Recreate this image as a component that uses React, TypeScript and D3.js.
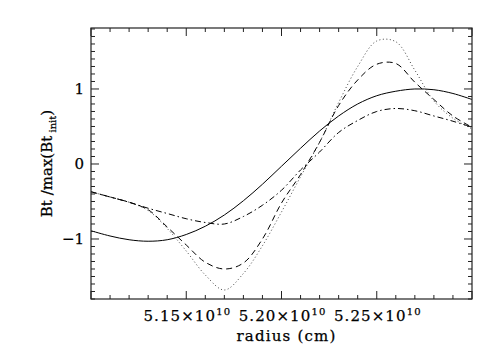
import React from "react";
import * as d3 from "d3";

const radius = [5.100, 5.110, 5.120, 5.130, 5.140, 5.150, 5.160, 5.170, 5.180, 5.190, 5.200, 5.210, 5.220, 5.230, 5.240, 5.250, 5.260, 5.270, 5.280, 5.290, 5.300];
const solid = [-0.89, -0.96, -1.01, -1.03, -1.01, -0.94, -0.83, -0.68, -0.49, -0.27, -0.03, 0.21, 0.44, 0.64, 0.80, 0.91, 0.97, 1.00, 0.99, 0.94, 0.86];
const dashed = [-0.37, -0.44, -0.51, -0.61, -0.84, -1.08, -1.31, -1.40, -1.32, -1.00, -0.52, -0.14, 0.29, 0.78, 1.12, 1.33, 1.34, 1.09, 0.86, 0.64, 0.49];
const dotted = [-0.37, -0.44, -0.51, -0.62, -0.86, -1.16, -1.48, -1.68, -1.46, -1.09, -0.64, -0.17, 0.29, 0.82, 1.30, 1.64, 1.63, 1.25, 0.84, 0.61, 0.47];
const dashDot = [-0.37, -0.44, -0.51, -0.59, -0.66, -0.73, -0.78, -0.80, -0.70, -0.55, -0.35, -0.08, 0.16, 0.42, 0.58, 0.70, 0.74, 0.71, 0.64, 0.57, 0.49];

const xMajorTicks = [5.15, 5.20, 5.25];
const yMajorTicks = [-1, 0, 1];

export default function App() {
  const W = 499, H = 358;
  const left = 91, right = 472, top = 28, bottom = 299;
  const x = d3.scaleLinear().domain([5.10, 5.30]).range([left, right]);
  const y = d3.scaleLinear().domain([-1.8, 1.813]).range([bottom, top]);

  const line = (vals: number[]) =>
    d3.line<number>()
      .x((_, i) => x(radius[i]))
      .y((v) => y(v))
      .curve(d3.curveCatmullRom.alpha(0.5))(vals) || "";

  const xMinor = d3.range(0, 21).map((i) => 5.10 + i * 0.01);
  const yMinor = d3.range(-18, 19).map((i) => i * 0.1);
  const axisColor = "#222";
  const font = "DejaVu Serif";

  const isMajorX = (v: number) => Math.abs(v * 20 - Math.round(v * 20)) < 1e-6;
  const isMajorY = (v: number) => Math.abs(v - Math.round(v)) < 1e-6;

  return (
    <svg width={W} height={H} style={{ position: "absolute", left: 0, top: 0, background: "#fff" }}>
      <rect x={0} y={0} width={W} height={H} fill="#fff" />
      {/* series */}
      <g fill="none" stroke="#000" strokeWidth={1}>
        <path d={line(solid)} />
        <path d={line(dashed)} strokeDasharray="6,4" />
        <path d={line(dotted)} strokeDasharray="1,2.5" stroke="#444" />
        <path d={line(dashDot)} strokeDasharray="6,3,1.5,3" />
      </g>
      {/* frame */}
      <rect x={left} y={top} width={right - left} height={bottom - top} fill="none" stroke={axisColor} strokeWidth={1.2} />
      {/* ticks */}
      <g stroke={axisColor} strokeWidth={1}>
        {xMinor.map((v, i) => {
          const len = isMajorX(v) ? 8 : 4;
          const px = x(v);
          return (
            <g key={"xt" + i}>
              <line x1={px} x2={px} y1={bottom} y2={bottom - len} />
              <line x1={px} x2={px} y1={top} y2={top + len} />
            </g>
          );
        })}
        {yMinor.map((v, i) => {
          const len = isMajorY(v) ? 8 : 4;
          const py = y(v);
          return (
            <g key={"yt" + i}>
              <line x1={left} x2={left + len} y1={py} y2={py} />
              <line x1={right} x2={right - len} y1={py} y2={py} />
            </g>
          );
        })}
      </g>
      {/* labels */}
      <g fontFamily={font} fontSize={15} fill="#000" stroke="#000" strokeWidth={0.25}>
        {xMajorTicks.map((v) => (
          <text key={"xl" + v} x={x(v) + 1} y={321} textAnchor="middle" letterSpacing={1.1}>
            {v.toFixed(2)}×10<tspan dy={-6} fontSize={10}>10</tspan>
          </text>
        ))}
        {yMajorTicks.map((v) => (
          <text key={"yl" + v} x={84} y={y(v) + 5} textAnchor="end">
            {v < 0 ? "−" + Math.abs(v) : String(v)}
          </text>
        ))}
        <text x={(left + right) / 2 + 5} y={341} textAnchor="middle" letterSpacing={1.2}>radius (cm)</text>
        <text transform={`translate(52, ${(top + bottom) / 2}) rotate(-90)`} textAnchor="middle">
          Bt /max(Bt<tspan dy={4} fontSize={10}> init</tspan><tspan dy={-4}>)</tspan>
        </text>
      </g>
    </svg>
  );
}
